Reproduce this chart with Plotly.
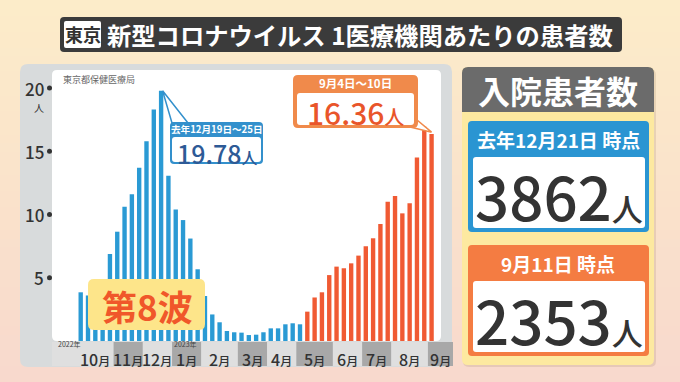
import plotly.graph_objects as go
import pandas as pd

# ---------------- data ----------------
week_starts = pd.date_range("2022-10-03", periods=49, freq="7D").strftime("%Y-%m-%d").tolist()
blue_vals = [3.85, 3.6, 3.8, 4.7, 6.88, 8.64, 10.62, 11.6, 13.7, 15.8, 18.3, 19.78, 13.07,
             10.4, 9.56, 8.1, 5.67, 3.56, 2.1, 1.48, 0.79, 0.69, 0.66, 0.47, 0.5, 0.69,
             1.0, 1.0, 1.32, 1.4, 1.32]
orange_vals = [2.32, 3.44, 3.85, 5.21, 5.88, 5.75, 6.14, 6.75, 7.49, 8.12, 9.25, 11.0,
               11.46, 10.09, 10.88, 14.5, 16.94, 16.36]
month_labels = ["10", "11", "12", "1", "2", "3", "4", "5", "6", "7", "8", "9"]
month_weeks = [5, 4, 4, 4, 5, 4, 4, 5, 4, 4, 5, 1]
year_labels = {0: "2022年", 3: "2023年"}
y_ticks = [5, 10, 15, 20]
peak_label = ("去年12月19日〜25日", "19.78")
last_label = ("9月4日〜10日", "16.36")
hosp_title = "入院患者数"
hosp = [("去年12月21日 時点", "3862"), ("9月11日 時点", "2353")]

# ---------------- geometry ----------------
W, H = 680, 382
X0, DX = 80.7, 7.31      # px of first bar, px per week
Y0, DY = 341.0, 12.65    # px of value 0, px per unit
FONT = "Noto Sans CJK JP"

def P(px, py):
    return px / W, 1 - py / H

def dx(px):
    return (px - X0) / DX

def dy(py):
    return (Y0 - py) / DY

def ix2px(i):
    return X0 + DX * i

def rr(x0, y0, x1, y1, r=4, rb=None):
    t = r
    b = r if rb is None else rb
    def p(x, y):
        X, Y = P(x, y)
        return f"{X:.5f},{Y:.5f}"
    return (f"M{p(x0+t,y0)} L{p(x1-t,y0)} Q{p(x1,y0)} {p(x1,y0+t)} "
            f"L{p(x1,y1-b)} Q{p(x1,y1)} {p(x1-b,y1)} L{p(x0+b,y1)} "
            f"Q{p(x0,y1)} {p(x0,y1-b)} L{p(x0,y0+t)} Q{p(x0,y0)} {p(x0+t,y0)} Z")

shapes = []
def box(x0, y0, x1, y1, color, r=4, rb=None, layer="below"):
    shapes.append(dict(type="path", path=rr(x0, y0, x1, y1, r, rb), xref="paper", yref="paper",
                       fillcolor=color, layer=layer, line=dict(width=0)))

def hexc(c):
    return tuple(int(c[i:i+2], 16) for i in (1, 3, 5))

annotations = []
def ann(px, py, text, size, color, xanchor="center", bold=False, weight=None):
    f = dict(family=FONT, size=size, color=color)
    if weight:
        f["weight"] = weight
    annotations.append(dict(x=P(px, 0)[0], y=P(0, py)[1], xref="paper", yref="paper",
                            text=f"<b>{text}</b>" if bold else text, font=f,
                            showarrow=False, xanchor=xanchor, yanchor="middle"))

# background gradient
top_c, bot_c = hexc("#fcecc9"), hexc("#f8d9cd")
N = 48
for k in range(N):
    t = k / (N - 1)
    c = tuple(round(top_c[j] + (bot_c[j] - top_c[j]) * t) for j in range(3))
    shapes.append(dict(type="rect", xref="paper", yref="paper", x0=0, x1=1,
                       y0=1 - (k + 1) / N - 0.002, y1=1 - k / N,
                       fillcolor=f"rgb{c}", line=dict(width=0), layer="below"))

# chart panel
box(20, 64, 452, 367, "#d8dbdc", r=8)
box(52, 70, 441, 341, "#ffffff", r=5)

# month bands
start = 0
n_total = len(blue_vals) + len(orange_vals)
for m, (lab, nw) in enumerate(zip(month_labels, month_weeks)):
    a = start - 0.5
    b = start + nw - 0.5
    left_px = ix2px(a) if m > 0 else 52
    right_px = ix2px(b) if m < len(month_labels) - 1 else 453
    col = "#a8a8a8" if m % 2 == 1 else "#dfdfdf"
    shapes.append(dict(type="rect", xref="paper", yref="paper",
                       x0=P(left_px, 0)[0], x1=P(right_px, 0)[0],
                       y0=P(0, 366)[1], y1=P(0, 342)[1], fillcolor=col,
                       line=dict(width=0), layer="below"))
    cx = (a + b) / 2 if m < len(month_labels) - 1 else dx((ix2px(a) + right_px) / 2)
    annotations.append(dict(x=cx, xref="x", y=P(0, 359)[1], yref="paper",
                            text=f"{lab}<span style='font-size:12px'>月</span>",
                            font=dict(family=FONT, size=16, color="#333333", weight=500),
                            showarrow=False, xanchor="center", yanchor="middle"))
    if m in year_labels:
        ann(left_px + 4 if m == 0 else left_px, 344, year_labels[m], 7, "#444444",
            xanchor="left")
    start += nw

# title bar
box(60, 17, 622, 52, "#3b3b3b", r=4)
box(64, 21, 101, 48, "#ffffff", r=2)
ann(82.5, 34.5, "東京", 18, "#333333", bold=True)
ann(105, 34.5, "新型コロナウイルス 1医療機関あたりの患者数", 24.3, "#ffffff",
    xanchor="left", bold=True)

# right panel
box(463, 69, 656, 367, "rgba(150,120,90,0.18)", r=6)
box(462, 67, 654, 365, "#fde9a0", r=6)
box(462, 67, 654, 112, "#6b6b6b", r=6, rb=0)
ann(558, 90, hosp_title, 32, "#ffffff", bold=True)
for (hdr, num), (by0, by1, col) in zip(hosp, [(121, 232, "#2a95d2"), (245, 356, "#f47c42")]):
    box(468, by0, 649, by1, col, r=4)
    box(473, by0 + 36, 645, by1 - 4, "#ffffff", r=3)
    ann(558, by0 + 18.5, hdr, 19, "#ffffff", bold=True)
    ann(559, by0 + 73, f"{num}<span style='font-size:31px'>人</span>", 60, "#333333",
        weight=500)

# 第8波 label
box(88, 279, 205, 330, "#fde58a", r=6, layer="above")
ann(147, 305, "第8波", 35, "#f0572a", bold=True)

# source
ann(61, 79, "東京都保健医療局", 9, "#666666", xanchor="left")

# y tick labels
for v in y_ticks:
    annotations.append(dict(x=P(46, 0)[0], xref="paper", y=v, yref="y", text=str(v),
                            font=dict(family=FONT, size=17, color="#333333", weight=500),
                            showarrow=False, xanchor="right", yanchor="middle"))
ann(39, 108, "人", 10, "#333333")

# callout boxes
peak_i = blue_vals.index(max(blue_vals))
last_i = n_total - 1
box(170, 122, 263, 164, "#3390cc", r=4, layer="above")
box(172, 137, 261, 162, "#ffffff", r=3, layer="above")
ann(216.5, 129, peak_label[0], 9.6, "#ffffff", bold=True)
ann(217, 152.5, f"{peak_label[1]}<span style='font-size:16px'>人</span>", 25, "#2d5a96",
    weight=500)

box(293, 75, 418, 128, "#f08a4b", r=5, layer="above")
box(297, 93, 414, 125, "#ffffff", r=3, layer="above")
ann(355.5, 83, last_label[0], 11.5, "#ffffff", bold=True)
ann(355.5, 112, f"{last_label[1]}<span style='font-size:20px'>人</span>", 30, "#e9552a",
    weight=500)

# ---------------- figure ----------------
fig = go.Figure()
fig.add_trace(go.Bar(x=list(range(len(blue_vals))), y=blue_vals, width=0.6,
                     marker=dict(color="#2a9ad4", line=dict(width=0)),
                     hovertext=week_starts[:len(blue_vals)], name="5類移行前"))
fig.add_trace(go.Bar(x=list(range(len(blue_vals), n_total)), y=orange_vals, width=0.6,
                     marker=dict(color="#f05a33", line=dict(width=0)),
                     hovertext=week_starts[len(blue_vals):], name="定点把握"))
# tick dots
fig.add_trace(go.Scatter(x=[dx(49.5)] * len(y_ticks), y=y_ticks, mode="markers",
                         marker=dict(size=5, color="#333333"), hoverinfo="skip"))
# pointers
fig.add_trace(go.Scatter(x=[peak_i + 0.2, dx(172), dx(188), peak_i + 0.2],
                         y=[max(blue_vals), dy(123), dy(123), max(blue_vals)],
                         fill="toself", fillcolor="#ffffff", mode="lines",
                         line=dict(color="#3390cc", width=1.5), hoverinfo="skip"))
fig.add_trace(go.Scatter(x=[last_i, dx(410), dx(417), last_i],
                         y=[orange_vals[-1] + 0.15, dy(127), dy(120), orange_vals[-1] + 0.15],
                         fill="toself", fillcolor="#ffffff", mode="lines",
                         line=dict(color="#f08a4b", width=1.5), hoverinfo="skip"))

fig.update_layout(
    width=W, height=H, margin=dict(l=0, r=0, t=0, b=0),
    paper_bgcolor="#fbe7cd", plot_bgcolor="rgba(0,0,0,0)",
    showlegend=False, barmode="overlay",
    xaxis=dict(range=[dx(0), dx(W)], domain=[0, 1], visible=False, fixedrange=True),
    yaxis=dict(range=[dy(H), dy(0)], domain=[0, 1], visible=False, fixedrange=True),
    shapes=shapes, annotations=annotations,
    font=dict(family=FONT),
)
fig.write_html("out.html", config={"displayModeBar": False},
               post_script="document.body.style.margin='0';document.body.style.overflow='hidden';")
